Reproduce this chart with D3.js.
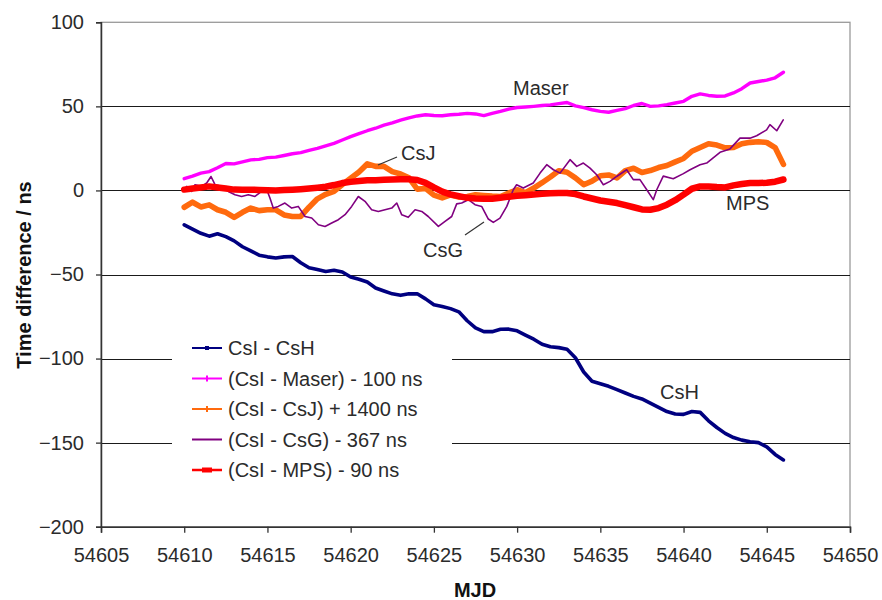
<!DOCTYPE html>
<html>
<head>
<meta charset="utf-8">
<script src="https://cdn.jsdelivr.net/npm/d3@7"></script>
<style>
  html, body { margin: 0; padding: 0; background: #fff; }
  svg text { font-family: "Liberation Sans", Arial, sans-serif; }
</style>
</head>
<body>
<svg id="chart" width="882" height="600"></svg>
<script>
// Sampling days (MJD), every half day
const mjd = [
  54610.0, 54610.5, 54611.0, 54611.5, 54612.0, 54612.5, 54613.0, 54613.5, 54614.0, 54614.5,
  54615.0, 54615.5, 54616.0, 54616.5, 54617.0, 54617.5, 54618.0, 54618.5, 54619.0, 54619.5,
  54620.0, 54620.5, 54621.0, 54621.5, 54622.0, 54622.5, 54623.0, 54623.5, 54624.0, 54624.5,
  54625.0, 54625.5, 54626.0, 54626.5, 54627.0, 54627.5, 54628.0, 54628.5, 54629.0, 54629.5,
  54630.0, 54630.5, 54631.0, 54631.5, 54632.0, 54632.5, 54633.0, 54633.5, 54634.0, 54634.5,
  54635.0, 54635.5, 54636.0, 54636.5, 54637.0, 54637.5, 54638.0, 54638.5, 54639.0, 54639.5,
  54640.0, 54640.5, 54641.0, 54641.5, 54642.0, 54642.5, 54643.0, 54643.5, 54644.0, 54644.5,
  54645.0, 54645.5, 54646.0
];

// Time differences in ns
const csH = [
  -20.5, -23, -25.5, -27.2, -25.8, -27.5, -30, -33.5, -36, -38.5,
  -39.5, -40.2, -39.5, -39.3, -43, -46, -47, -48.2, -47.5, -48.5,
  -51.5, -52.8, -54.5, -58, -59.8, -61.5, -62.4, -61.5, -61.5, -64.5,
  -68, -69, -70.3, -72.2, -77.5, -81.8, -84, -84, -82.6, -82.5,
  -83.5, -86, -88.5, -91.5, -93, -93.5, -94.5, -99.5, -108, -113.5,
  -115, -116.5, -118.5, -120.5, -122.5, -124, -126.5, -129, -131.5, -133,
  -133.2, -131.5, -132, -137, -141, -144.5, -147, -148.5, -149.5, -150,
  -152.5, -157, -160.3
];
const maser = [
  7, 8.5, 10.3, 11.2, 13.5, 16, 15.8, 17, 18.2, 18.5,
  19.5, 19.8, 20.8, 21.8, 22.5, 23.8, 25, 26.5, 28, 30,
  32, 33.8, 35.5, 37, 38.8, 40.2, 41.8, 43.2, 44.3, 45,
  44.6, 44.4, 45, 45.3, 45.8, 45.5, 44.5, 45.8, 47, 48.4,
  49.3, 49.6, 50, 50.5, 50.9, 51.6, 52.3, 50.3, 49.2, 48,
  47, 46.5, 47.6, 48.7, 50.5, 51.7, 50, 50.3, 51, 52,
  53, 56, 57.4, 56.5, 56, 56.2, 58, 60.5, 63.9, 64.8,
  65.6, 67, 70.3
];
const csJ = [
  -10, -7, -9.8, -8.6, -11.5, -13, -16, -13, -10.5, -12,
  -11.5, -11.5, -14.6, -15.5, -15.5, -10, -5, -2.3, -0.5, 3.5,
  7.2, 11, 15.8, 14.3, 14.3, 11.2, 9.8, 7.5, 0.8, 1.2,
  -2.8, -4.4, -2.7, -4, -3.6, -2.6, -3, -3.4, -3.6, -1.5,
  0.4, -1.3, 1.4, 4.6, 8, 11.7, 10.8, 7.5, 3.4, 5.5,
  8.7, 9.2, 7.4, 11.8, 13.2, 10.7, 11.8, 13.6, 14.8, 17,
  19, 23.3, 25.5, 27.8, 27, 25.3, 25.5, 27.8, 28.6, 29,
  28.5, 25.5, 15.5
];
const mps = [
  0.5, 1.2, 1.8, 2.4, 1.8, 1.2, 0.5, 0.4, 0.4, 0.3,
  0.1, 0, 0.2, 0.4, 0.7, 1.1, 1.6, 2.2, 3.2, 4.4,
  5.1, 5.6, 6, 6.1, 6.3, 6.5, 6.7, 6.7, 6.2, 4.5,
  1.8, -0.7, -2.3, -3.4, -4.4, -4.8, -5, -5, -4.4, -3.7,
  -3.2, -2.8, -2.4, -2, -1.7, -1.5, -1.5, -2.2, -3.6, -4.8,
  -6, -6.7, -7.5, -8.8, -10, -11.3, -11.5, -10.5, -8.5, -5.8,
  -2.5, 1, 2.4, 2.4, 2, 1.8, 3, 3.8, 4.4, 4.4,
  4.6, 5.2, 6.5
];

// CsG is sampled more finely (its own day list)
const csGDays = [
  54610.0, 54610.15, 54610.45, 54610.65, 54611.05, 54611.35, 54611.61, 54611.85, 54612.25, 54612.65,
  54613.05, 54613.45, 54613.85, 54614.25, 54614.65, 54614.96, 54615.15, 54615.35, 54615.65, 54616.05,
  54616.46, 54616.85, 54617.26, 54617.66, 54618.06, 54618.46, 54618.86, 54619.26, 54619.66, 54620.06,
  54620.46, 54620.86, 54621.26, 54621.66, 54622.06, 54622.47, 54622.77, 54623.07, 54623.46, 54623.87,
  54624.27, 54624.66, 54625.27, 54625.67, 54626.07, 54626.37, 54626.67, 54627.07, 54627.47, 54627.87,
  54628.27, 54628.57, 54628.97, 54629.38, 54629.77, 54629.97, 54630.37, 54630.97, 54631.38, 54631.78,
  54632.18, 54632.58, 54633.18, 54633.58, 54633.98, 54634.38, 54634.78, 54635.18, 54635.58, 54635.98,
  54636.58, 54636.98, 54637.38, 54637.79, 54638.18, 54638.39, 54638.78, 54639.38, 54639.99, 54640.39,
  54640.99, 54641.39, 54642.19, 54642.79, 54643.39, 54643.99, 54644.39, 54644.99, 54645.19, 54645.6,
  54645.99
];
const csG = [
  0.5, 2.4, -0.6, 3.4, 2.4, 4.4, 8.3, 3.4, 2.4, -0.6,
  -2.6, -3.6, -2.6, -3.6, -0.6, 0.4, -4.5, -10.5, -9.5, -7.5,
  -10.5, -9.5, -15.5, -16.4, -20.4, -21.4, -19.4, -17.4, -14.4, -9.5,
  -3.6, -6.5, -11.5, -12.5, -11.5, -10.5, -7.5, -14.5, -16, -11.5,
  -12.5, -15.5, -21.4, -18.4, -15.5, -8, -7.5, -5.5, -8.5, -9.5,
  -17, -19, -16.5, -9.5, 0.4, 3.4, 1.4, 4.4, 10.3, 15.3,
  12.3, 10.3, 18.3, 14.3, 16.3, 13.3, 9.3, 3.4, 5.4, 8.3,
  12.3, 6.4, 6.4, 0.4, -5.5, 0.4, 8.5, 7, 10, 12.3,
  15.3, 16.3, 22.7, 24.7, 31.1, 31.1, 32.5, 36, 39.1, 35.5,
  42
];

const seriesNames = [
  "CsI - CsH",
  "(CsI - Maser) - 100 ns",
  "(CsI - CsJ) + 1400 ns",
  "(CsI - CsG) - 367 ns",
  "(CsI - MPS) - 90 ns"
];
const seriesDays = [mjd, mjd, mjd, csGDays, mjd];
const seriesValues = [csH, maser, csJ, csG, mps];

const xTicks = [54605, 54610, 54615, 54620, 54625, 54630, 54635, 54640, 54645, 54650];
const yTicks = [-200, -150, -100, -50, 0, 50, 100];

// Short labels written next to the curves
const curveLabels = ["CsH", "Maser", "CsJ", "CsG", "MPS"];

// ---------------------------------------------------------------
const colors = ["#000080", "#ff00ff", "#ff6a0e", "#800080", "#ff0000"];
const widths = [3.6, 3.4, 5.6, 1.6, 6.5];

const svg = d3.select("#chart");
const plotLeft = 101, plotRight = 850, plotTop = 22.3, plotBottom = 526.7;

const x = d3.scaleLinear().domain([54605, 54650]).range([plotLeft, plotRight]);
const y = d3.scaleLinear().domain([-200, 100]).range([plotBottom, plotTop]);

// plot frame (top and right edges)
svg.append("rect")
  .attr("x", plotLeft).attr("y", plotTop)
  .attr("width", plotRight - plotLeft).attr("height", plotBottom - plotTop)
  .attr("fill", "none").attr("stroke", "#9a9a9a").attr("stroke-width", 1.3);

// horizontal grid lines
svg.append("g")
  .selectAll("line")
  .data(yTicks.filter(v => v > -200 && v < 100))
  .join("line")
  .attr("x1", plotLeft).attr("x2", plotRight)
  .attr("y1", d => Math.round(y(d)) + 0.5).attr("y2", d => Math.round(y(d)) + 0.5)
  .attr("stroke", "#1a1a1a").attr("stroke-width", 1.2);

// axes
const yAxis = svg.append("g")
  .attr("transform", `translate(${plotLeft},0)`)
  .call(d3.axisLeft(y).tickValues(yTicks).tickSize(5).tickPadding(12).tickFormat(d3.format("d")));
const xAxis = svg.append("g")
  .attr("transform", `translate(0,${plotBottom})`)
  .call(d3.axisBottom(x).tickValues(xTicks).tickSize(6).tickPadding(15).tickFormat(d3.format("d")));

[yAxis, xAxis].forEach(g => {
  g.select(".domain").attr("stroke", "#333").attr("stroke-width", 1.5);
  g.selectAll(".tick line").attr("stroke", "#333").attr("stroke-width", 1.3);
  g.selectAll(".tick text").attr("font-size", 20).attr("fill", "#2b2b2b")
    .attr("font-family", "'Liberation Sans', Arial, sans-serif");
});

// axis titles
svg.append("text")
  .attr("x", 475).attr("y", 597)
  .attr("text-anchor", "middle").attr("font-size", 20).attr("font-weight", "bold")
  .attr("fill", "#111").text("MJD");
svg.append("text")
  .attr("transform", "translate(31,275) rotate(-90)")
  .attr("text-anchor", "middle").attr("font-size", 20).attr("font-weight", "bold")
  .attr("fill", "#111").text("Time difference / ns");

// curves
const curves = svg.append("g");
seriesValues.forEach((vals, k) => {
  const days = seriesDays[k];
  const line = d3.line()
    .x((d, i) => x(days[i]))
    .y(d => y(d));
  curves.append("path")
    .datum(vals)
    .attr("d", line)
    .attr("fill", "none")
    .attr("stroke", colors[k])
    .attr("stroke-width", widths[k])
    .attr("stroke-linejoin", "round")
    .attr("stroke-linecap", "round");
});

// curve annotations
const note = svg.append("g").attr("font-size", 20).attr("fill", "#2b2b2b");
const notePos = [
  { t: curveLabels[0], x: 660, y: 399 },
  { t: curveLabels[1], x: 513, y: 95 },
  { t: curveLabels[2], x: 401, y: 160 },
  { t: curveLabels[3], x: 423, y: 257 },
  { t: curveLabels[4], x: 726, y: 210 }
];
notePos.forEach(p => note.append("text").attr("x", p.x).attr("y", p.y).text(p.t));
svg.append("line").attr("x1", 378).attr("y1", 165).attr("x2", 397).attr("y2", 157)
  .attr("stroke", "#333").attr("stroke-width", 1.2);
svg.append("line").attr("x1", 465).attr("y1", 235).attr("x2", 484).attr("y2", 222)
  .attr("stroke", "#333").attr("stroke-width", 1.2);

// legend
const legend = svg.append("g");
legend.append("rect")
  .attr("x", 172).attr("y", 330).attr("width", 280).attr("height", 158)
  .attr("fill", "#fff");
const rowY = d3.scaleLinear().domain([0, 4]).range([348, 470]);
seriesNames.forEach((name, k) => {
  const yy = rowY(k);
  legend.append("line")
    .attr("x1", 192).attr("x2", 222).attr("y1", yy).attr("y2", yy)
    .attr("stroke", colors[k]).attr("stroke-width", k === 4 ? 2.5 : 2);
  if (k === 0) {
    legend.append("rect").attr("x", 205).attr("y", yy - 2).attr("width", 4).attr("height", 4).attr("fill", colors[k]);
  } else if (k === 1 || k === 2) {
    legend.append("rect").attr("x", 206).attr("y", yy - 3).attr("width", 2).attr("height", 6).attr("fill", colors[k]);
  } else if (k === 4) {
    legend.append("rect").attr("x", 202).attr("y", yy - 2.5).attr("width", 10).attr("height", 5).attr("fill", colors[k]);
  }
  legend.append("text")
    .attr("x", 228).attr("y", yy + 7)
    .attr("font-size", 20).attr("fill", "#2b2b2b")
    .text(name);
});
</script>
</body>
</html>
